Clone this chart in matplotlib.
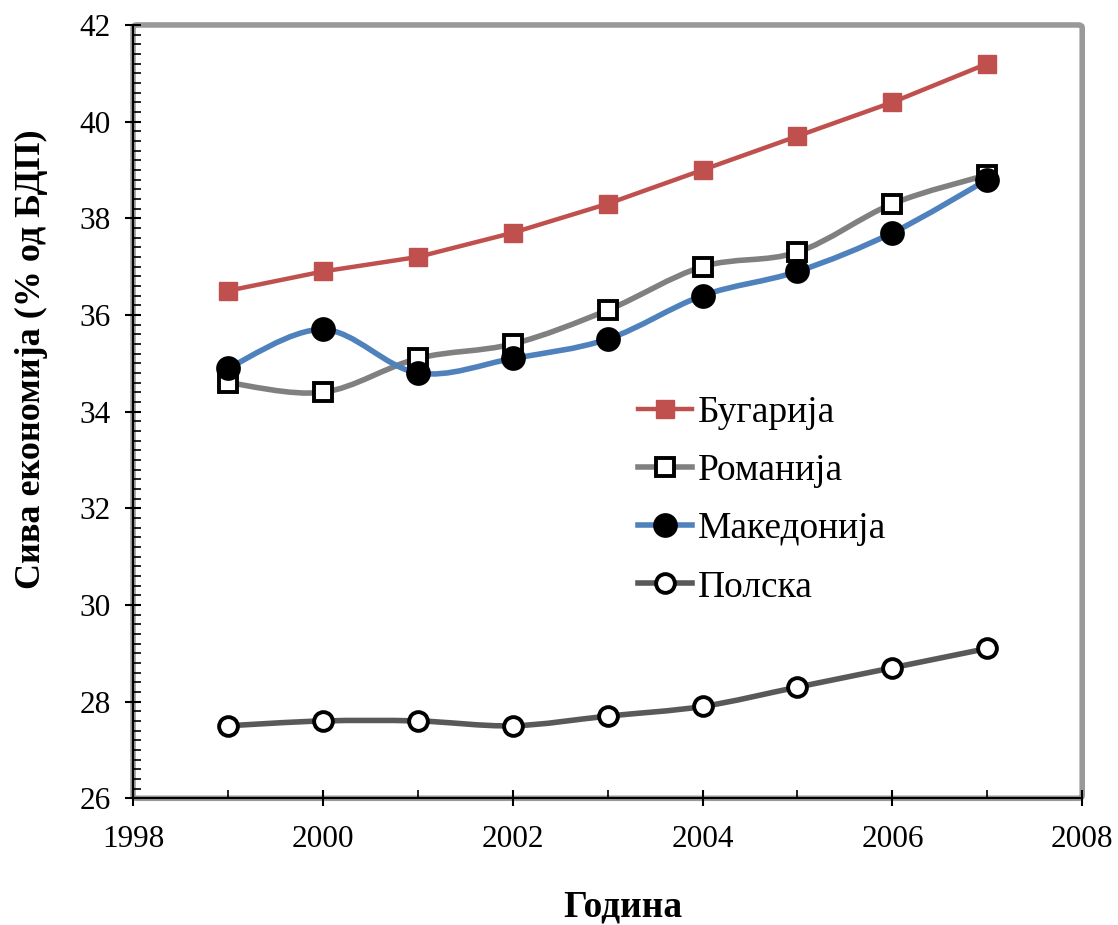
import numpy as np
import matplotlib
matplotlib.use("Agg")
import matplotlib.pyplot as plt
from matplotlib.path import Path
from matplotlib.patches import PathPatch, FancyBboxPatch
from matplotlib.lines import Line2D
from matplotlib.ticker import MultipleLocator

plt.rcParams['font.family'] = ['Liberation Serif', 'DejaVu Serif']

years = [1999, 2000, 2001, 2002, 2003, 2004, 2005, 2006, 2007]
bugarija = [36.5, 36.9, 37.2, 37.7, 38.3, 39.0, 39.7, 40.4, 41.2]
romanija = [34.6, 34.4, 35.1, 35.4, 36.1, 37.0, 37.3, 38.3, 38.9]
makedonija = [34.9, 35.7, 34.8, 35.1, 35.5, 36.4, 36.9, 37.7, 38.8]
polska = [27.5, 27.6, 27.6, 27.5, 27.7, 27.9, 28.3, 28.7, 29.1]
names = ['Бугарија', 'Романија', 'Македонија', 'Полска']


def smooth_path(x, y):
    # bezier segments like the excel "smoothed line"
    p = np.column_stack([x, y]).astype(float)
    ext = np.vstack([p[0], p, p[-1]])
    verts = [p[0]]
    codes = [Path.MOVETO]
    for i in range(len(p) - 1):
        c1 = ext[i + 1] + (ext[i + 2] - ext[i]) / 6
        c2 = ext[i + 2] - (ext[i + 3] - ext[i + 1]) / 6
        verts += [c1, c2, p[i + 1]]
        codes += [Path.CURVE4] * 3
    return Path(verts, codes)


fig = plt.figure(figsize=(11.18, 9.25), dpi=100)
ax = fig.add_axes([0.119, 0.137, 0.849, 0.836])
ax.set_xlim(1998, 2008)
ax.set_ylim(26, 42)

# gray frame of the plot area
frame = FancyBboxPatch((0, 0), 1, 1, boxstyle="round,pad=0,rounding_size=0.004",
                       transform=ax.transAxes, fill=False, edgecolor='#999999',
                       linewidth=4, clip_on=False, zorder=0.5)
ax.add_patch(frame)
for s in ['top', 'right']:
    ax.spines[s].set_visible(False)
for s in ['left', 'bottom']:
    ax.spines[s].set_color('black')
    ax.spines[s].set_linewidth(1.5)

# Bugarija - straight line
ax.plot(years, bugarija, color='#C0504D', linewidth=3.2, marker='s',
        markersize=13, markerfacecolor='#C0504D', markeredgecolor='#C0504D', zorder=3)

series = [
    (romanija, '#808080', 's', 'white', 13),
    (makedonija, '#4F81BD', 'o', 'black', 15),
    (polska, '#595959', 'o', 'white', 13.5),
]
for vals, col, mk, fc, ms in series:
    ax.add_patch(PathPatch(smooth_path(years, vals), fill=False, edgecolor=col,
                           linewidth=4, zorder=2))
    ax.plot(years, vals, linestyle='none', marker=mk, markersize=ms,
            markerfacecolor=fc, markeredgecolor='black', markeredgewidth=2.8, zorder=4)

handles = [
    Line2D([], [], color='#C0504D', lw=3.2, marker='s', ms=13,
           mfc='#C0504D', mec='#C0504D'),
    Line2D([], [], color='#808080', lw=4, marker='s', ms=13,
           mfc='white', mec='black', mew=2.8),
    Line2D([], [], color='#4F81BD', lw=4, marker='o', ms=15,
           mfc='black', mec='black', mew=2.8),
    Line2D([], [], color='#595959', lw=4, marker='o', ms=13.5,
           mfc='white', mec='black', mew=2.8),
]
ax.legend(handles, names, loc='upper left', bbox_to_anchor=(0.516, 0.54),
          frameon=False, fontsize=27, handlelength=1.45, handletextpad=0.15,
          labelspacing=0.63, borderaxespad=0)

ax.xaxis.set_major_locator(MultipleLocator(2))
ax.xaxis.set_minor_locator(MultipleLocator(1))
ax.yaxis.set_major_locator(MultipleLocator(2))
ax.yaxis.set_minor_locator(MultipleLocator(0.2))
ax.tick_params(which='major', direction='inout', length=12, width=1.5,
               labelsize=22.5, colors='black')
ax.tick_params(which='minor', direction='in', length=6, width=1.2)
ax.tick_params(axis='x', pad=13)
ax.tick_params(axis='y', pad=10)

ax.set_xlabel('Година', fontsize=27, fontweight='bold')
ax.set_ylabel('Сива економија (% од БДП)', fontsize=26, fontweight='bold')
ax.xaxis.set_label_coords(0.516, -0.14)
ax.yaxis.set_label_coords(-0.107, 0.568)
ax.xaxis.label.set_va('center')
ax.yaxis.label.set_va('center')

fig.savefig('out.png', dpi=100)
